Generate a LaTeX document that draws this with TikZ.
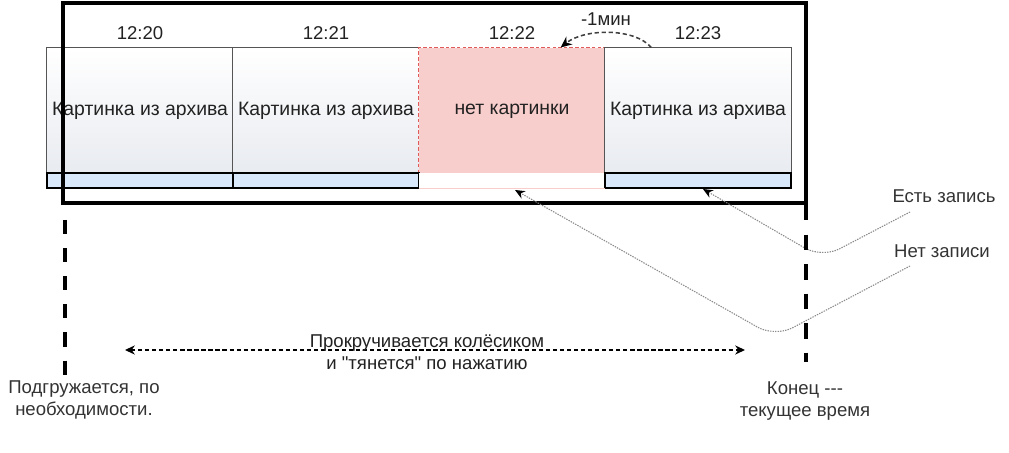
\documentclass[tikz,border=0pt]{standalone}
\usepackage{fontspec}
\setmainfont{Liberation Sans}[Ligatures=TeXOff]
\usetikzlibrary{arrows.meta,calc}
\definecolor{cellgrad}{HTML}{E8EBF0}
\definecolor{cellborder}{HTML}{555555}
\definecolor{stripblue}{HTML}{DAE8FC}
\definecolor{nofill}{HTML}{F8CECC}
\definecolor{noborder}{HTML}{E05A5A}
\definecolor{txt}{HTML}{222222}
\definecolor{lbl}{HTML}{333333}
\definecolor{curvegray}{HTML}{8A8A8A}
\begin{document}
\begin{tikzpicture}[x=0.025cm,y=-0.025cm,
  every node/.style={font=\fontsize{13.2pt}{15.6pt}\selectfont, text=txt, inner sep=0pt},
  celltxt/.style={font=\fontsize{13.8pt}{16pt}\selectfont},
  cellbox/.style={draw=cellborder, line width=0.7pt, top color=white, bottom color=cellgrad,
    minimum width=4.65cm, minimum height=3.125cm},
  nocell/.style={draw=noborder, dashed, dash pattern=on 2.5pt off 1.5pt, line width=0.7pt, fill=nofill,
    minimum width=4.65cm, minimum height=3.125cm},
  stripbox/.style={draw=black, line width=0.8pt, fill=stripblue, minimum width=4.65cm, minimum height=0.375cm},
  nostrip/.style={fill=white, minimum width=4.65cm, minimum height=0.375cm},
  timelbl/.style={text=txt},
  sidelbl/.style={text=lbl, align=center},
  bigdash/.style={line width=2.9pt, dash pattern=on 10pt off 10pt},
  recline/.style={curvegray, line width=0.75pt, dash pattern=on 1pt off 0.8pt, rounded corners=14pt,
    -{Stealth[length=7pt,width=6pt,black]}},
  scrollarrow/.style={black, line width=1.1pt, dash pattern=on 3pt off 2pt,
    {Stealth[length=7pt,width=6.5pt]}-{Stealth[length=7pt,width=6.5pt]}},
  minarrow/.style={black!75, line width=1.1pt, dash pattern=on 3pt off 2pt, -{Stealth[length=8pt,width=7pt,black]}}
]
\useasboundingbox (0,0) rectangle (1009,453);

% cells
\node[cellbox] (c1) at (140,110.5) {};
\node[cellbox] (c2) at (326,110.5) {};
\node[nocell]  (c3) at (512,110.5) {};
\node[cellbox] (c4) at (698,110.5) {};
% strips
\node[stripbox] (s1) at (140,180.5) {};
\node[stripbox] (s2) at (326,180.5) {};
\node[nostrip]  (s3) at (512,180.5) {};
\node[stripbox] (s4) at (698,180.5) {};
\draw[nofill, line width=0.8pt] (s3.south west) -- (s3.south east);
% cell texts
\node[celltxt] (t1) at (140,111) {Картинка из архива};
\node[celltxt] (t2) at (326,111) {Картинка из архива};
\node[celltxt] (t3) at (512,111) {нет картинки};
\node[celltxt] (t4) at (698,111) {Картинка из архива};
% time labels
\node[timelbl] (h1) at (140,33) {12:20};
\node[timelbl] (h2) at (326,33) {12:21};
\node[timelbl] (h3) at (512,33) {12:22};
\node[timelbl] (h4) at (698,33) {12:23};
\node[timelbl] (m1) at (606,19) {-1мин};

% view frame
\node[draw=black, line width=2.9pt, minimum width=18.575cm, minimum height=5cm] (frame) at (434.5,103) {};

% -1min arrow
\coordinate (mstart) at ($(c4.north west)!0.25!(c4.north east)$);
\coordinate (mend) at ($(c3.north west)!0.76!(c3.north east)$);
\draw[minarrow] (mstart) .. controls (635,28) and (585,28) .. (mend);

% labels
\node[sidelbl] (est) at (944,196) {Есть запись};
\node[sidelbl] (net) at (942,251) {Нет записи};
\coordinate (estA) at (910,212);
\coordinate (netA) at (910,266);
\coordinate (estT) at (703,189);
\coordinate (netT) at (515,190);
\draw[recline] (estA) -- (822,258) -- (estT);
\draw[recline] (netA) -- (775,337) -- (netT);

% vertical dashed lines
\coordinate (lt) at (65,220);
\coordinate (lb) at (65,376);
\coordinate (rt) at (806,205);
\coordinate (rb) at (806,362);
\draw[bigdash] (lt) -- (lb);
\draw[bigdash, dash pattern=on 11pt off 10pt] (rt) -- (rb);

% scroll arrow
\coordinate (sa) at (125,350);
\coordinate (sb) at (745,350);
\draw[scrollarrow] (sa) -- (sb);
\node[sidelbl, text=txt] (scrolltxt) at (427,352) {Прокручивается колёсиком\\и "тянется" по нажатию};

% bottom labels
\node[sidelbl] (load) at (84,400) {Подгружается, по\\необходимости.};
\node[sidelbl] (endlbl) at (805,401) {Конец -{}-{}-\\текущее время};
\end{tikzpicture}
\end{document}
